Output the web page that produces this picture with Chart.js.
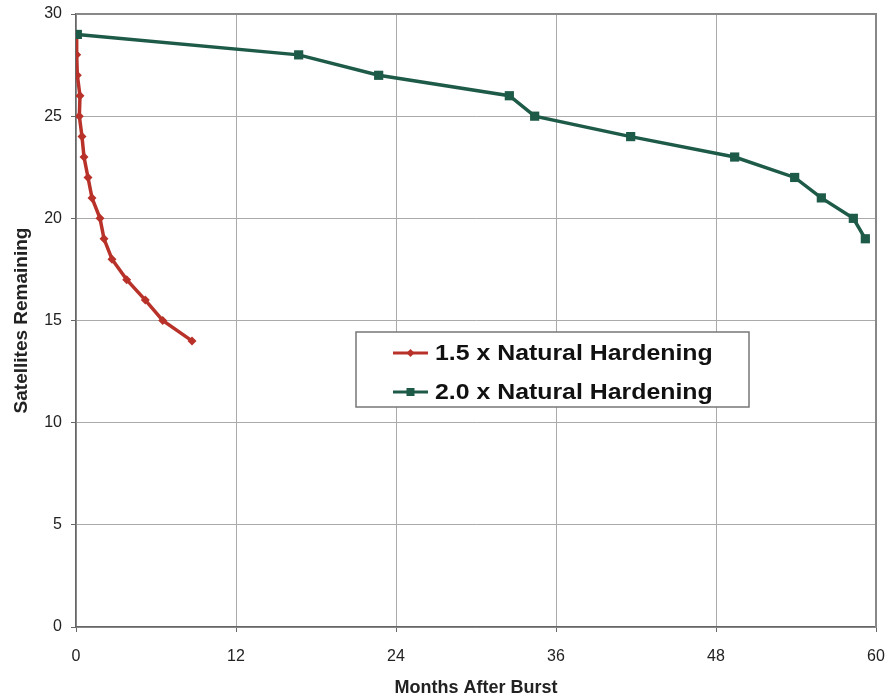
<!DOCTYPE html>
<html>
<head>
<meta charset="utf-8">
<script src="https://cdn.jsdelivr.net/npm/chart.js@4.4.0/dist/chart.umd.min.js"></script>
<style>
  html, body { margin: 0; padding: 0; background: #fff; }
  #wrap { width: 890px; height: 699px; }
</style>
</head>
<body>
<div id="wrap"><canvas id="chart" width="890" height="699"></canvas></div>
<script>
// months after burst / satellites remaining
const monthsA = [0, 0.05, 0.1, 0.3, 0.25, 0.45, 0.6, 0.9, 1.2, 1.8, 2.1, 2.7, 3.8, 5.2, 6.5, 8.7];
const satsA   = [29, 28, 27, 26, 25, 24, 23, 22, 21, 20, 19, 18, 17, 16, 15, 14];
const monthsB = [0.1, 16.7, 22.7, 32.5, 34.4, 41.6, 49.4, 53.9, 55.9, 58.3, 59.2];
const satsB   = [29, 28, 27, 26, 25, 24, 23, 22, 21, 20, 19];
const seriesNames = ["1.5 x Natural Hardening", "2.0 x Natural Hardening"];
const xTicks = [0, 12, 24, 36, 48, 60];
const yTicks = [0, 5, 10, 15, 20, 25, 30];

const RED = "#b8322a";
const GREEN = "#1e5a48";
const FONT = "'Liberation Sans', Arial, sans-serif";

const toPoints = (xs, ys) => xs.map((x, i) => ({ x: x, y: ys[i] }));

// legend box sitting inside the plot, like the original
const boxLegend = {
  id: "boxLegend",
  afterDraw(chart) {
    const ctx = chart.ctx;
    const area = chart.chartArea;
    const x0 = area.left + 280, y0 = 332, w = 393, h = 75;
    ctx.save();
    ctx.fillStyle = "#fff";
    ctx.fillRect(x0, y0, w, h);
    ctx.strokeStyle = "#777";
    ctx.lineWidth = 1.5;
    ctx.strokeRect(x0, y0, w, h);
    ctx.font = "bold 22px " + FONT;
    ctx.textBaseline = "middle";
    chart.data.datasets.forEach((ds, i) => {
      const cy = y0 + 21 + i * 39;
      ctx.strokeStyle = ds.borderColor;
      ctx.lineWidth = 3;
      ctx.beginPath();
      ctx.moveTo(x0 + 37, cy);
      ctx.lineTo(x0 + 72, cy);
      ctx.stroke();
      ctx.fillStyle = ds.borderColor;
      const r = 4;
      ctx.beginPath();
      if (i === 0) {
        ctx.moveTo(x0 + 54.5 - r, cy); ctx.lineTo(x0 + 54.5, cy - r);
        ctx.lineTo(x0 + 54.5 + r, cy); ctx.lineTo(x0 + 54.5, cy + r);
        ctx.closePath();
      } else {
        ctx.rect(x0 + 54.5 - r, cy - r, 2 * r, 2 * r);
      }
      ctx.fill();
      ctx.fillStyle = "#111";
      // the scanned original uses a wider face, so stretch a bit
      ctx.save();
      ctx.translate(x0 + 79, cy + 1);
      ctx.scale(1.13, 1);
      ctx.fillText(ds.label, 0, 0);
      ctx.restore();
    });
    // plot frame
    ctx.strokeStyle = "#888";
    ctx.lineWidth = 2;
    ctx.beginPath();
    ctx.moveTo(area.left, area.top);
    ctx.lineTo(area.right, area.top);
    ctx.lineTo(area.right, area.bottom);
    ctx.stroke();
    ctx.restore();
  }
};

new Chart(document.getElementById("chart"), {
  type: "scatter",
  data: {
    datasets: [
      {
        label: seriesNames[0],
        data: toPoints(monthsA, satsA),
        showLine: true,
        borderColor: RED,
        backgroundColor: RED,
        borderWidth: 3.5,
        pointStyle: "rectRot",
        pointRadius: 4.5,
        pointBorderWidth: 0,
        order: 2
      },
      {
        label: seriesNames[1],
        data: toPoints(monthsB, satsB),
        showLine: true,
        borderColor: GREEN,
        backgroundColor: GREEN,
        borderWidth: 3.5,
        pointStyle: "rect",
        pointRadius: 6.5,
        pointBorderWidth: 0,
        order: 1
      }
    ]
  },
  options: {
    responsive: false,
    animation: false,
    layout: { padding: { top: 14, right: 14, left: 0, bottom: 0 } },
    plugins: { legend: { display: false }, tooltip: { enabled: false } },
    scales: {
      x: {
        type: "linear",
        min: 0, max: 60,
        afterBuildTicks: s => { s.ticks = xTicks.map(v => ({ value: v })); },
        afterFit: s => { s.height = 72; s.paddingLeft = 0; s.paddingRight = 0; },
        ticks: { color: "#222", font: { family: FONT, size: 16 }, padding: 15, maxRotation: 0 },
        grid: { color: "#aaa", lineWidth: 1, tickLength: 5, tickColor: "#666" },
        border: { color: "#666", width: 1.5 },
        title: {
          display: true, text: "Months After Burst", color: "#222",
          font: { family: FONT, size: 18, weight: "bold" }, padding: { top: 0, bottom: 0 }
        }
      },
      y: {
        min: 0, max: 30,
        afterBuildTicks: s => { s.ticks = yTicks.map(v => ({ value: v })); },
        afterFit: s => { s.width = 76; s.paddingTop = 0; s.paddingBottom = 0; },
        ticks: { color: "#222", font: { family: FONT, size: 16 }, padding: 9 },
        grid: { color: "#aaa", lineWidth: 1, tickLength: 5, tickColor: "#666" },
        border: { color: "#666", width: 1.5 },
        title: {
          display: true, text: "Satellites Remaining", color: "#222",
          font: { family: FONT, size: 19, weight: "bold" }, padding: { top: 10, bottom: 10 }
        }
      }
    }
  },
  plugins: [boxLegend]
});
</script>
</body>
</html>
